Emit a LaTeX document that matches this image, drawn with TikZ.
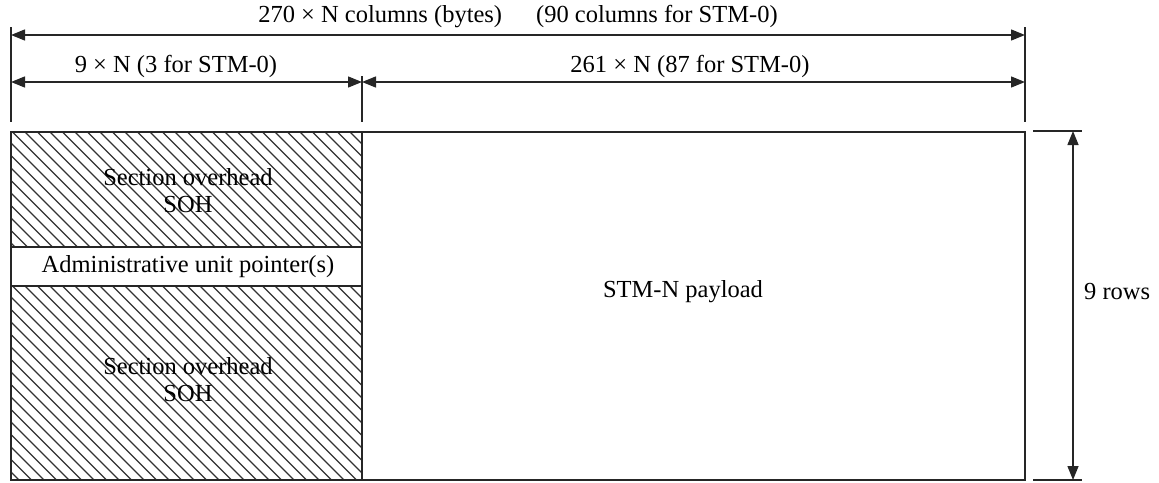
\documentclass[tikz,border=0pt]{standalone}
\usepackage{fontspec}
\setmainfont{Liberation Serif}
\usetikzlibrary{arrows.meta}
\begin{document}
\begin{tikzpicture}[x=1pt,y=-1pt,
  ln/.style={line width=1.4pt,draw=black!85},
  dim/.style={ln,{Triangle[length=14pt,width=11pt]}-{Triangle[length=14pt,width=11pt]}},
  lbl/.style={font=\fontsize{24.5}{28}\selectfont,inner sep=0pt,text=black},
  hatch/.style={line width=1.3pt,draw=black!80}]
\useasboundingbox (0,0) rectangle (1159,482);
% coordinates
\coordinate (TL) at (11,132);
\coordinate (BR) at (1025,480);
\coordinate (D1) at (362,132);
\coordinate (D2) at (362,480);
% hatching upper and lower
\begin{scope}
  \clip (11,132) rectangle (362,247);
  \foreach \i in {0,...,60} {\draw[hatch] (\i*12.5-400,132) -- ++(400,400);}
\end{scope}
\begin{scope}
  \clip (11,286) rectangle (362,480);
  \foreach \i in {0,...,60} {\draw[hatch] (\i*12.5-400,286) -- ++(400,400);}
\end{scope}
% frame
\draw[ln] (TL) rectangle (BR);
\draw[ln] (D1) -- (D2);
\draw[ln] (11,247) -- (362,247);
\draw[ln] (11,286) -- (362,286);
% extension lines
\coordinate (L1) at (11,27);   \coordinate (L2) at (11,122);
\coordinate (M1) at (362,76);  \coordinate (M2) at (362,122);
\coordinate (R1) at (1025,27); \coordinate (R2) at (1025,122);
\draw[ln] (L1) -- (L2);
\draw[ln] (M1) -- (M2);
\draw[ln] (R1) -- (R2);
\coordinate (T1) at (1033,131); \coordinate (T2) at (1082,131);
\coordinate (B1) at (1033,480); \coordinate (B2) at (1082,480);
\draw[ln] (T1) -- (T2);
\draw[ln] (B1) -- (B2);
% dimension arrows
\coordinate (a1) at (11,35);  \coordinate (a2) at (1025,35);
\coordinate (b1) at (11,82);  \coordinate (b2) at (362,82); \coordinate (b3) at (1025,82);
\coordinate (v1) at (1073,131); \coordinate (v2) at (1073,480);
\draw[dim] (a1) -- (a2);
\draw[dim] (b1) -- (b2);
\draw[dim] (b2) -- (b3);
\draw[dim] (v1) -- (v2);
% labels
\node[lbl] (top) at (518,17) {270 × N columns (bytes)\hspace{34pt}(90 columns for STM-0)};
\node[lbl] (left) at (176,66) {9 × N (3 for STM-0)};
\node[lbl] (right) at (690,66) {261 × N (87 for STM-0)};
\node[lbl,align=center] (soh1) at (188,191) {Section overhead\\[-1pt]SOH};
\node[lbl] (aup) at (188,267) {Administrative unit pointer(s)};
\node[lbl,align=center] (soh2) at (188,380) {Section overhead\\[-1pt]SOH};
\node[lbl] (pay) at (683,292) {STM-N payload};
\node[lbl,anchor=west] (rows) at (1084,292) {9 rows};
\end{tikzpicture}
\end{document}
